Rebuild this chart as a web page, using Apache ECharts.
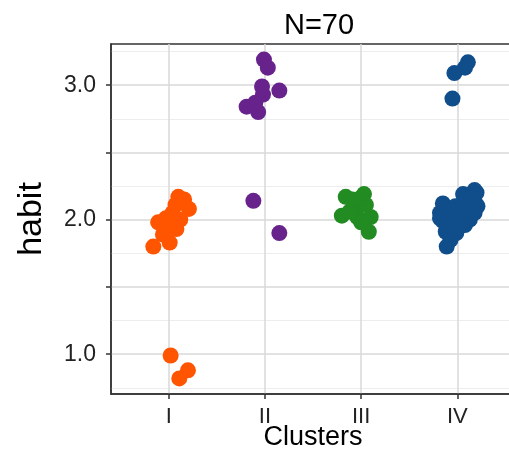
<!DOCTYPE html>
<html>
<head>
<meta charset="utf-8">
<script src="https://cdn.jsdelivr.net/npm/echarts@6/dist/echarts.min.js"></script>
<style>
  html, body { margin: 0; padding: 0; background: #fff; }
  #chart { width: 509px; height: 462px; }
</style>
</head>
<body>
<div id="chart"></div>
<script>
// cluster names and colours
const clusterLabels = ['I', 'II', 'III', 'IV'];
const clusterColors = ['#ff5500', '#68228b', '#228b22', '#104e8b'];

// jitter offsets (x, around cluster position) and habit values, per cluster
const offsetsI = [0.10, 0.21, 0.04, -0.11, 0.12, 0.00, -0.16, 0.01, 0.02, 0.20, 0.11, 0.08, -0.03, 0.16, 0.07, -0.06];
const habitI   = [2.17, 2.08, 2.05, 1.98, 2.00, 1.95, 1.80, 1.83, 0.99, 0.88, 0.82, 1.93, 2.01, 2.15, 2.11, 1.89];

const offsetsII = [-0.01, 0.03, -0.03, -0.02, 0.15, -0.19, -0.07, -0.12, 0.15, -0.10];
const habitII   = [3.19, 3.13, 2.99, 2.93, 2.96, 2.84, 2.80, 2.14, 1.90, 2.87];

const offsetsIII = [-0.16, 0.01, -0.07, -0.20, -0.04, 0.10, 0.08, 0.00, -0.12, 0.05, 0.03, -0.09];
const habitIII   = [2.17, 2.17, 2.11, 2.03, 2.02, 2.02, 1.91, 1.98, 2.06, 2.11, 2.19, 2.15];

const offsetsIV = [0.11, 0.08, -0.03, -0.05,
  0.20, 0.06, 0.18, 0.13, 0.19, 0.21, -0.15, -0.02, 0.05, -0.18, -0.07, 0.10, 0.18, -0.04,
  0.03, 0.13, -0.15, -0.09, 0.01, 0.08, -0.12, -0.01, -0.07, -0.11, -0.18, 0.16, 0.07, -0.05];
const habitIV = [3.17, 3.13, 3.09, 2.90,
  2.20, 2.19, 2.22, 2.16, 2.12, 2.10, 2.12, 2.10, 2.07, 2.05, 2.04, 2.05, 2.05, 2.01,
  1.99, 2.00, 1.99, 1.94, 1.94, 1.96, 1.91, 1.90, 1.85, 1.80, 2.01, 2.10, 2.15, 2.07];

const clusterOffsets = [offsetsI, offsetsII, offsetsIII, offsetsIV];
const clusterHabits = [habitI, habitII, habitIII, habitIV];

const majorY = [1, 1.5, 2, 2.5, 3];
const labelY = [1, 2, 3];
const minorY = [0.75, 1.25, 1.75, 2.25, 2.75, 3.25];
const clusterPos = [1, 2, 3, 4];

const chart = echarts.init(document.getElementById('chart'));

const series = clusterLabels.map((name, i) => ({
  name: name,
  type: 'scatter',
  symbolSize: 16,
  itemStyle: { color: clusterColors[i], opacity: 1 },
  data: clusterOffsets[i].map((o, k) => [clusterPos[i] + o, clusterHabits[i][k]])
}));

const font = 'Liberation Sans, Arial, sans-serif';

chart.setOption({
  animation: false,
  title: {
    text: 'N=70',
    left: 314,
    textAlign: 'center',
    top: 6,
    textStyle: { fontSize: 29, fontWeight: 'normal', color: '#000', fontFamily: font }
  },
  grid: {
    left: 111, top: 44, width: 404, bottom: 68,
    outerBoundsMode: 'none',
    containLabel: false,
    show: true, borderColor: '#333', borderWidth: 1.5, backgroundColor: '#fff'
  },
  xAxis: {
    type: 'value',
    min: 0.4, max: 4.6,
    name: 'Clusters',
    nameLocation: 'middle',
    nameMoveOverlap: false,
    nameGap: 30,
    nameTextStyle: { fontSize: 27, color: '#000', fontFamily: font },
    axisLine: { show: true, lineStyle: { color: '#333', width: 1.5 } },
    axisTick: { show: true, length: 5, customValues: clusterPos, lineStyle: { color: '#333', width: 1.5 } },
    axisLabel: {
      customValues: clusterPos,
      margin: 12,
      fontSize: 22, color: '#222', fontFamily: font,
      formatter: v => clusterLabels[Math.round(v) - 1]
    },
    splitLine: { show: true, customValues: clusterPos, lineStyle: { color: '#d9d9d9', width: 1.5 } }
  },
  yAxis: [{
    type: 'value',
    min: 0.704, max: 3.306,
    name: 'habit',
    nameLocation: 'middle',
    nameMoveOverlap: false,
    nameRotate: 90,
    nameGap: 62,
    nameTextStyle: { fontSize: 34, color: '#000', fontFamily: font },
    axisLine: { show: true, lineStyle: { color: '#333', width: 1.5 } },
    axisTick: { show: true, length: 5, customValues: majorY, lineStyle: { color: '#333', width: 1.5 } },
    axisLabel: {
      customValues: labelY,
      margin: 15,
      fontSize: 23, color: '#222', fontFamily: font,
      formatter: v => v.toFixed(1)
    },
    splitLine: { show: true, customValues: majorY, lineStyle: { color: '#d9d9d9', width: 1.5 } }
  }, {
    type: 'value',
    min: 0.704, max: 3.306,
    axisLine: { show: false },
    axisTick: { show: false, customValues: minorY },
    axisLabel: { show: false, customValues: minorY },
    splitLine: { show: true, customValues: minorY, lineStyle: { color: '#ededed', width: 1 } }
  }],
  series: series
});
</script>
</body>
</html>
